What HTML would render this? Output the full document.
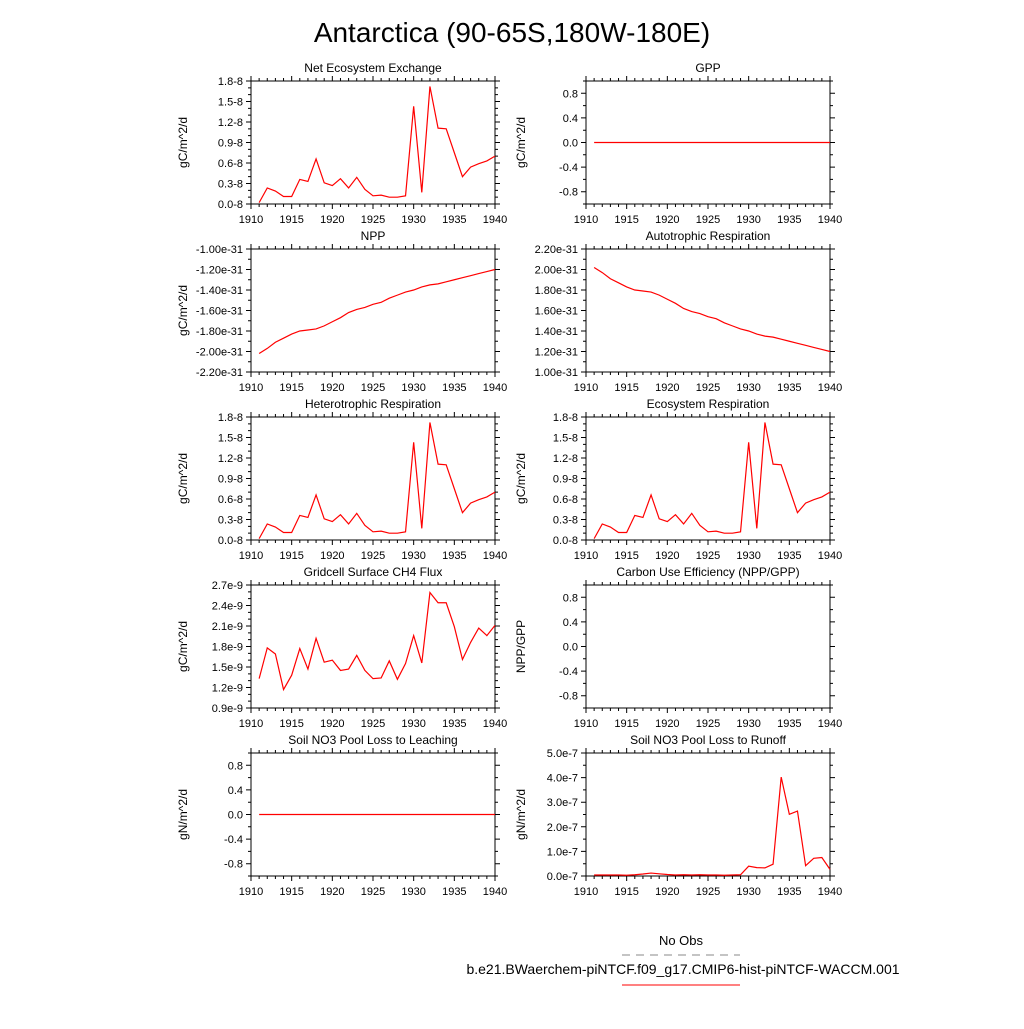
<!DOCTYPE html>
<html><head><meta charset="utf-8"><style>
body{margin:0;background:#fff;width:1024px;height:1024px;overflow:hidden}
svg{font-family:"Liberation Sans",sans-serif}
</style></head><body>
<svg id="c" width="1024" height="1024" xmlns="http://www.w3.org/2000/svg">
<text x="512" y="42" font-size="28" text-anchor="middle">Antarctica (90-65S,180W-180E)</text>
<g>
<text x="681" y="945" font-size="13" text-anchor="middle">No Obs</text>
<line x1="622" y1="955" x2="740" y2="955" stroke="#888" stroke-dasharray="8,6"/>
<text x="683" y="974" font-size="14" text-anchor="middle">b.e21.BWaerchem-piNTCF.f09_g17.CMIP6-hist-piNTCF-WACCM.001</text>
<line x1="622" y1="985" x2="740" y2="985" stroke="red"/>
</g>
</svg>
<script>
const years=[1911,1912,1913,1914,1915,1916,1917,1918,1919,1920,1921,1922,1923,1924,1925,1926,1927,1928,1929,1930,1931,1932,1933,1934,1935,1936,1937,1938,1939,1940];
const neeValues=[0.02,0.235,0.19,0.11,0.11,0.36,0.33,0.66,0.31,0.27,0.37,0.235,0.39,0.215,0.12,0.13,0.10,0.10,0.12,1.43,0.17,1.72,1.11,1.10,0.75,0.40,0.54,0.59,0.63,0.70];
const gppValues=[0,0,0,0,0,0,0,0,0,0,0,0,0,0,0,0,0,0,0,0,0,0,0,0,0,0,0,0,0,0];
const nppValues=[-2.02,-1.97,-1.91,-1.87,-1.83,-1.80,-1.79,-1.78,-1.75,-1.71,-1.67,-1.62,-1.59,-1.57,-1.54,-1.52,-1.48,-1.45,-1.42,-1.40,-1.37,-1.35,-1.34,-1.32,-1.30,-1.28,-1.26,-1.24,-1.22,-1.20];
const arValues=nppValues.map(v=>-v);
const ch4Values=[1.33,1.78,1.69,1.17,1.38,1.77,1.47,1.92,1.57,1.60,1.45,1.47,1.67,1.45,1.33,1.34,1.59,1.32,1.55,1.96,1.56,2.59,2.44,2.44,2.09,1.61,1.86,2.07,1.96,2.11];
const runoffValues=[0.04,0.04,0.04,0.04,0.03,0.05,0.08,0.12,0.09,0.06,0.04,0.05,0.04,0.05,0.04,0.04,0.03,0.04,0.05,0.40,0.34,0.33,0.48,4.02,2.51,2.64,0.42,0.72,0.75,0.27];
const xTicks=[1910,1915,1920,1925,1930,1935,1940];
const neeTicks=["0.0-8","0.3-8","0.6-8","0.9-8","1.2-8","1.5-8","1.8-8"];
const zeroTicks=["-0.8","-0.4","0.0","0.4","0.8"];
const nppTicks=["-2.20e-31","-2.00e-31","-1.80e-31","-1.60e-31","-1.40e-31","-1.20e-31","-1.00e-31"];
const arTicks=["1.00e-31","1.20e-31","1.40e-31","1.60e-31","1.80e-31","2.00e-31","2.20e-31"];
const ch4Ticks=["0.9e-9","1.2e-9","1.5e-9","1.8e-9","2.1e-9","2.4e-9","2.7e-9"];
const runoffTicks=["0.0e-7","1.0e-7","2.0e-7","3.0e-7","4.0e-7","5.0e-7"];

const svg=document.getElementById('c');const NS='http://www.w3.org/2000/svg';
function mk(t,a,p){const e=document.createElementNS(NS,t);for(const k in a)e.setAttribute(k,a[k]);(p||svg).appendChild(e);return e;}
const cols=[251,586],rows=[81,249,417,585,753],W=244,H=123;
const panels=[
{name:'nee',title:'Net Ecosystem Exchange',yl:'gC/m^2/d',c:0,r:0,lo:0,hi:1.8,t0:0,ts:0.3,labels:neeTicks,minor:0.1,data:neeValues},
{name:'gpp',title:'GPP',yl:'gC/m^2/d',c:1,r:0,lo:-1,hi:1,t0:-0.8,ts:0.4,labels:zeroTicks,minor:0.2,data:gppValues},
{name:'npp',title:'NPP',yl:'gC/m^2/d',c:0,r:1,lo:-2.2,hi:-1.0,t0:-2.2,ts:0.2,labels:nppTicks,minor:0.1,data:nppValues},
{name:'autotrophic-respiration',title:'Autotrophic Respiration',yl:'',c:1,r:1,lo:1.0,hi:2.2,t0:1.0,ts:0.2,labels:arTicks,minor:0.1,data:arValues},
{name:'heterotrophic-respiration',title:'Heterotrophic Respiration',yl:'gC/m^2/d',c:0,r:2,lo:0,hi:1.8,t0:0,ts:0.3,labels:neeTicks,minor:0.1,data:neeValues},
{name:'ecosystem-respiration',title:'Ecosystem Respiration',yl:'gC/m^2/d',c:1,r:2,lo:0,hi:1.8,t0:0,ts:0.3,labels:neeTicks,minor:0.1,data:neeValues},
{name:'ch4-flux',title:'Gridcell Surface CH4 Flux',yl:'gC/m^2/d',c:0,r:3,lo:0.9,hi:2.7,t0:0.9,ts:0.3,labels:ch4Ticks,minor:0.1,data:ch4Values},
{name:'carbon-use-efficiency',title:'Carbon Use Efficiency (NPP/GPP)',yl:'NPP/GPP',c:1,r:3,lo:-1,hi:1,t0:-0.8,ts:0.4,labels:zeroTicks,minor:0.2,data:null},
{name:'no3-leaching',title:'Soil NO3 Pool Loss to Leaching',yl:'gN/m^2/d',c:0,r:4,lo:-1,hi:1,t0:-0.8,ts:0.4,labels:zeroTicks,minor:0.2,data:gppValues},
{name:'no3-runoff',title:'Soil NO3 Pool Loss to Runoff',yl:'gN/m^2/d',c:1,r:4,lo:0,hi:5,t0:0,ts:1,labels:runoffTicks,minor:0.5,data:runoffValues}];
panels.forEach(p=>{
 const x0=cols[p.c],y0=rows[p.r];
 const g=mk('g',{});
 
 
 const xs=v=>x0+(v-1910)/30*W, ys=v=>y0+H-(v-p.lo)/(p.hi-p.lo)*H;
 const fr=mk('rect',{x:x0,y:y0,width:W,height:H,fill:'none',stroke:'#000','stroke-width':1},g);
 
 
 const tt=mk('text',{x:x0+W/2,y:y0-9,'font-size':12,'text-anchor':'middle'},g);tt.textContent=p.title;
 
 
 let d='';
 for(let y=1910;y<=1940;y++){const X=xs(y),L=(y%5==0)?5:3;d+=`M${X},${y0+H}v${L}M${X},${y0}v${-L}`;}
 const eps=1e-6;
 for(let v=p.lo;v<=p.hi+eps;v+=p.minor){const Y=ys(v);d+=`M${x0},${Y}h-3M${x0+W},${Y}h3`;}
 p.labels.forEach((l,i)=>{const v=p.t0+i*p.ts,Y=ys(v);d+=`M${x0},${Y}h-5M${x0+W},${Y}h5`;
  const t=mk('text',{x:x0-8,y:Y+4,'font-size':11,'text-anchor':'end'},g);t.textContent=l;
  
  });
 mk('path',{d:d,stroke:'#000','stroke-width':1,fill:'none'},g);
 xTicks.forEach(v=>{const t=mk('text',{x:xs(v),y:y0+H+19,'font-size':11,'text-anchor':'middle'},g);t.textContent=v;
  
  });
 if(p.yl){const yt=mk('text',{x:0,y:0,'font-size':12,'text-anchor':'middle',transform:`translate(${x0-64+(p.c?3:0)},${y0+H/2}) rotate(-90)`},g);yt.textContent=p.yl;
  
  }
 if(p.data){const pts=p.data.map((v,i)=>xs(years[i])+','+ys(v)).join(' ');
  const ln=mk('polyline',{points:pts,fill:'none',stroke:'red','stroke-width':1.2},g);
  
  }
});
</script>
</body></html>
